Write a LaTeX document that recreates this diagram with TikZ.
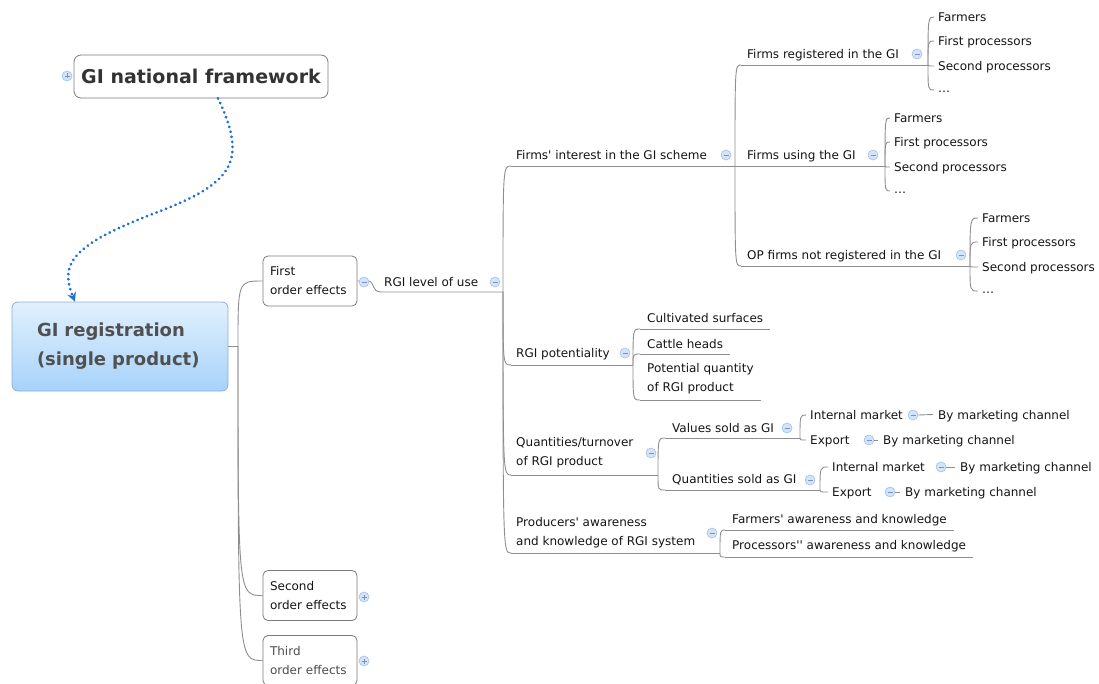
\documentclass[tikz,border=0pt]{standalone}
\usepackage{fontspec}
\setmainfont{DejaVu Sans}
\usetikzlibrary{arrows.meta}
\definecolor{conn}{HTML}{8E8E8E}
\definecolor{boxborder}{HTML}{7A7A7A}
\definecolor{icfill}{HTML}{D3E3F8}
\definecolor{icdraw}{HTML}{A6BFE3}
\definecolor{icsign}{HTML}{7894C4}
\definecolor{dotblue}{HTML}{1E6FD6}
\definecolor{roottop}{HTML}{E2F0FE}
\definecolor{rootbot}{HTML}{A7D2FA}
\definecolor{rootborder}{HTML}{8DB0D6}
\definecolor{txt}{HTML}{141414}
\definecolor{roottxt}{HTML}{505050}
\newcommand\q{\textquotesingle}
\tikzset{
  lnk/.style={draw=conn, line width=0.9pt},
  t/.style={anchor=west, inner sep=0pt, text height=9pt, text depth=0pt, text=txt,
            font=\fontsize{12}{19}\selectfont},
  tl/.style={anchor=west, inner sep=0pt, align=left, text=txt, font=\fontsize{12}{19}\selectfont},
  obox/.style={draw=boxborder, line width=0.8pt, rounded corners=5pt, minimum width=94pt,
               minimum height=50pt, text width=80pt, inner xsep=7pt, align=left,
               font=\fontsize{12}{19}\selectfont, text=txt},
  nfbox/.style={draw=boxborder, line width=0.8pt, rounded corners=7pt, minimum width=254pt,
               minimum height=43pt, font=\bfseries\fontsize{19}{22}\selectfont, text=black!80},
  rootbox/.style={draw=rootborder, line width=0.8pt, rounded corners=6pt, top color=roottop,
               bottom color=rootbot, minimum width=216pt, minimum height=89pt, text width=166pt,
               inner xsep=25pt, align=left, font=\bfseries\fontsize{18}{29}\selectfont, text=roottxt},
  ico/.style={circle, draw=icdraw, fill=icfill, line width=0.6pt, minimum size=10pt, inner sep=0pt},
  minusicon/.pic={\node[ico] (-c) {}; \draw[icsign, line width=0.9pt] (-2.5,0) -- (2.5,0);},
  plusicon/.pic={\node[ico] (-c) {}; \draw[icsign, line width=0.9pt] (-2.5,0) -- (2.5,0) (0,-2.5) -- (0,2.5);},
}
\newcommand\branch[2]{\draw[lnk] (#1) .. controls (#1 |- #2) and (#1 |- #2) .. (#2);}
\newcommand\fourleaves[4]{%
  \node[t] (#1a) at (#3,#4) {Farmers};
  \node[t] (#1b) at (#3,#4+24) {First processors};
  \node[t] (#1c) at (#3,#4+49) {Second processors};
  \node[t] (#1d) at (#3,#4+71) {\ldots};
  \coordinate (#1aC) at ([xshift=-4pt]#1a.west);
  \coordinate (#1bC) at ([xshift=-4pt]#1b.west);
  \coordinate (#1cC) at ([xshift=-4pt]#1c.west);
  \coordinate (#1dC) at ([xshift=-4pt,yshift=-2pt]#1d.west);
  \branch{#2}{#1aC}\branch{#2}{#1bC}\branch{#2}{#1cC}\branch{#2}{#1dC}%
}
\begin{document}
\begin{tikzpicture}[x=1pt,y=-1pt]
\useasboundingbox (0,0) rectangle (1099,684);

% ---- main boxes
\node[nfbox] (nf) at (201,76.5) {GI national framework};
\node[rootbox] (root) at (120,346.5) {GI registration\\(single product)};
\node[obox] (fo) at (310,281) {First\\order effects};
\node[obox] (so) at (310,595.5) {Second\\order effects};
\node[obox, text=black!70] (to) at (310,660.5) {Third\\order effects};

% dotted relationship arrow
\draw[dotblue, line width=3pt, dash pattern=on 0.1pt off 5pt, line cap=round,
      -{Stealth[length=9pt,width=9pt]}]
  ([xshift=17pt]nf.south) .. controls (250,165) and (230,185) .. (150,215)
  .. controls (70,246) and (60,265) .. ([xshift=-45pt]root.north);

% root connectors
\coordinate (rj) at (238,346);
\draw[lnk] (root.east |- rj) -- (rj);
\branch{rj}{fo.west}
\branch{rj}{so.west}
\branch{rj}{to.west}

% ---- RGI level of use
\node[t] (lu) at (384,282) {RGI level of use};
\coordinate (luL) at (381,292);
\coordinate (luR) at (503,292);
\draw[lnk] (fo.east) -- (368,281) .. controls (375,281) and (371,292) .. (luL) -- (luR);

% ---- level 2
\node[t] (fi) at (516,155) {Firms\q{} interest in the GI scheme};
\coordinate (fiL) at (511,166); \coordinate (fiR) at (735,166);
\node[t] (rp) at (516,353) {RGI potentiality};
\coordinate (rpL) at (511,365); \coordinate (rpR) at (633,365);
\node[tl] (qt) at (516,453) {Quantities/turnover\\of RGI product};
\coordinate (qtL) at (511,475); \coordinate (qtR) at (658,475);
\node[tl] (pa) at (516,533) {Producers\q{} awareness\\and knowledge of RGI system};
\coordinate (paL) at (511,553); \coordinate (paR) at (720,553);
\foreach \c in {fi,rp,qt,pa}{\branch{luR}{\c L}\draw[lnk] (\c L) -- (\c R);}

% ---- under Firms' interest
\node[t] (fr) at (747,54) {Firms registered in the GI};
\coordinate (frL) at (741,65); \coordinate (frR) at (928,65);
\node[t] (fu) at (747,155) {Firms using the GI};
\coordinate (fuR) at (885,166);
\node[t] (op) at (747,255) {OP firms not registered in the GI};
\coordinate (opL) at (741,266); \coordinate (opR) at (970,266);
\branch{fiR}{frL}\draw[lnk] (frL) -- (frR);
\draw[lnk] (fiR) -- (fuR);
\branch{fiR}{opL}\draw[lnk] (opL) -- (opR);

\fourleaves{A}{frR}{938}{17}
\fourleaves{B}{fuR}{894}{118}
\fourleaves{C}{opR}{982}{218}

% ---- under RGI potentiality
\node[t] (cs) at (647,318) {Cultivated surfaces};
\coordinate (csL) at (640,329); \coordinate (csE) at (cs.east |- csL);
\node[t] (ch) at (647,344) {Cattle heads};
\coordinate (chL) at (640,354); \coordinate (chE) at (ch.east |- chL);
\node[tl] (pq) at (647,378.5) {Potential quantity\\of RGI product};
\coordinate (pqL) at (640,400); \coordinate (pqE) at (pq.east |- pqL);
\foreach \c in {cs,ch,pq}{\branch{rpR}{\c L}\draw[lnk] (\c L) -- ([xshift=7pt]\c E);}

% ---- under Quantities/turnover
\node[t] (vs) at (672,428) {Values sold as GI};
\coordinate (vsL) at (665,438); \coordinate (vsR) at (800,438);
\node[t] (qs) at (672,479) {Quantities sold as GI};
\coordinate (qsL) at (665,490); \coordinate (qsR) at (820,490);
\foreach \c in {vs,qs}{\branch{qtR}{\c L}\draw[lnk] (\c L) -- (\c R);}

\node[t] (im1) at (810,415) {Internal market};
\node[t] (ex1) at (810,440) {Export};
\node[t] (im2) at (832,467) {Internal market};
\node[t] (ex2) at (832,492) {Export};
\node[t] (bm1) at (938,414.5) {By marketing channel};
\node[t] (bm2) at (883,440) {By marketing channel};
\node[t] (bm3) at (960,467) {By marketing channel};
\node[t] (bm4) at (905,492) {By marketing channel};
\foreach \c/\p in {im1/vsR,ex1/vsR,im2/qsR,ex2/qsR}{
  \coordinate (\c C) at ([xshift=-4pt]\c.west);
  \branch{\p}{\c C}}

% ---- under Producers' awareness
\node[t] (fa) at (732,519) {Farmers\q{} awareness and knowledge};
\coordinate (faL) at (725,530); \coordinate (faE) at (fa.east |- faL);
\node[t] (pr) at (732,545) {Processors\q\q{} awareness and knowledge};
\coordinate (prL) at (725,557); \coordinate (prE) at (pr.east |- prL);
\foreach \c in {fa,pr}{\branch{paR}{\c L}\draw[lnk] (\c L) -- ([xshift=7pt]\c E);}

% ---- icons
\pic (i1) at (364,282) {minusicon};
\pic (i2) at (495,282) {minusicon};
\pic (i3) at (726,155) {minusicon};
\pic (i4) at (917,54) {minusicon};
\pic (i5) at (873,155) {minusicon};
\pic (i6) at (961,255) {minusicon};
\pic (i7) at (625,353) {minusicon};
\pic (i8) at (651,453) {minusicon};
\pic (i9) at (712,533) {minusicon};
\pic (i10) at (787,428) {minusicon};
\pic (i11) at (810,480) {minusicon};
\pic (i12) at (913,415) {minusicon};
\pic (i13) at (869,440) {minusicon};
\pic (i14) at (941,467) {minusicon};
\pic (i15) at (890,492) {minusicon};
\pic (p1) at (67,76) {plusicon};
\pic (p2) at (364,597) {plusicon};
\pic (p3) at (364,661) {plusicon};

% links from market leaves to marketing channels
\foreach \i/\b in {i12/bm1,i13/bm2,i14/bm3,i15/bm4}{
  \draw[lnk] (\i-c.east) -- ([xshift=-5pt]\b.west);}
\end{tikzpicture}
\end{document}
